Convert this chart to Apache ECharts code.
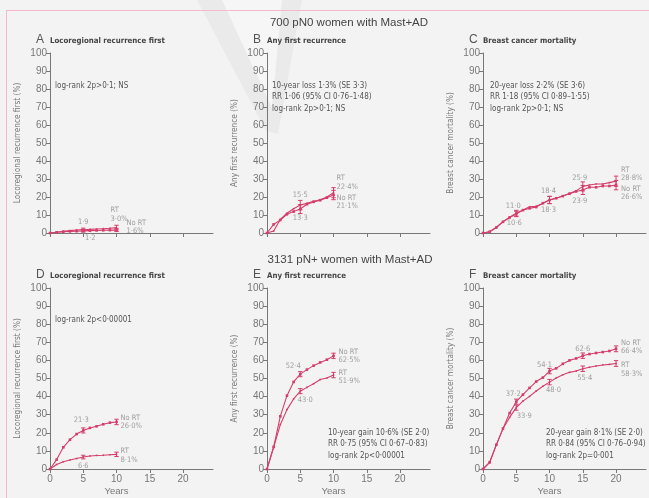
<!DOCTYPE html>
<html><head><meta charset="utf-8">
<script src="https://cdn.jsdelivr.net/npm/echarts@6/dist/echarts.min.js"></script>
<style>html,body{margin:0;padding:0;background:#f3f3f3}#c{width:649px;height:498px}</style>
</head><body><div id="c"></div><script>
// ---------- data ----------
const years10 = [0,1,2,3,4,5,6,7,8,9,10];
const years20 = [0,1,2,3,4,5,6,7,8,9,10,11,12,13,14,15,16,17,18,19,20];
const xTicks = [0,5,10,15,20];

const aRT   = [0,0.4,0.9,1.3,1.7,1.9,2.0,2.2,2.4,2.6,3.0];
const aNoRT = [0,0.4,0.7,0.9,1.0,1.2,1.3,1.4,1.5,1.6,1.6];
const bRT   = [0,1.1,7.5,11.0,13.5,15.5,16.5,17.6,18.5,20.0,22.4];
const bNoRT = [0,4.8,7.2,10.4,11.9,13.3,16.0,17.3,18.2,19.6,21.1];
const cRT   = [0,0.7,3.2,6.3,8.8,11.0,12.8,14.6,14.8,16.4,18.4,19.3,20.6,22.0,23.4,25.9,26.7,27.2,27.2,28.0,28.8];
const cNoRT = [0,0.7,3.0,6.2,8.6,10.6,12.7,13.7,14.4,16.6,18.3,19.3,20.5,21.8,23.1,23.9,25.4,25.4,26.1,26.1,26.6];
const dRT   = [0,2.5,4.0,5.0,5.8,6.6,7.2,7.5,7.6,7.9,8.1];
const dNoRT = [0,5.2,12.0,16.2,19.3,21.3,22.7,23.6,24.7,25.6,26.0];
const eRT   = [0,12.0,24.5,32.8,38.7,43.0,45.1,47.1,49.4,50.3,51.9];
const eNoRT = [0,12.2,29.1,40.5,48.1,52.4,54.9,57.1,58.9,60.4,62.5];
const fRT   = [0,3.7,13.2,22.3,28.5,33.9,37.5,40.1,43.1,45.7,48.0,50.3,52.1,53.4,54.1,55.4,56.2,56.9,57.5,57.8,58.3];
const fNoRT = [0,3.7,13.4,22.3,30.9,37.2,41.1,44.8,48.3,50.5,54.1,55.6,58.1,60.0,61.1,62.6,63.5,64.1,64.6,65.2,66.4];

// error-bar half widths at 5-year marks
const aRTci = [0.8,1.3],  aNoRTci = [0.7,0.8];
const bRTci = [2.6,2.8],  bNoRTci = [2.5,2.6];
const cRTci = [1.6,2.0,2.5,2.8], cNoRTci = [1.5,2.0,2.5,2.6];
const dRTci = [1.0,1.2],  dNoRTci = [1.4,1.5];
const eRTci = [1.4,1.5],  eNoRTci = [1.4,1.5];
const fRTci = [1.4,1.5,1.5,1.6], fNoRTci = [1.4,1.5,1.5,1.6];

const panelTitles = ['Locoregional recurrence first','Any first recurrence','Breast cancer mortality',
                     'Locoregional recurrence first','Any first recurrence','Breast cancer mortality'];
const panelLetters = ['A','B','C','D','E','F'];
const yNames = ['Locoregional recurrence first (%)','Any first recurrence (%)','Breast cancer mortality (%)',
                'Locoregional recurrence first (%)','Any first recurrence (%)','Breast cancer mortality (%)'];
const rowTitles = ['700 pN0 women with Mast+AD','3131 pN+ women with Mast+AD'];
const notes = [
  ['log-rank 2p>0·1; NS'],
  ['10-year loss 1·3% (SE 3·3)','RR 1·06 (95% CI 0·76–1·48)','log-rank 2p>0·1; NS'],
  ['20-year loss 2·2% (SE 3·6)','RR 1·18 (95% CI 0·89–1·55)','log-rank 2p>0·1; NS'],
  ['log-rank 2p<0·00001'],
  ['10-year gain 10·6% (SE 2·0)','RR 0·75 (95% CI 0·67–0·83)','log-rank 2p<0·00001'],
  ['20-year gain 8·1% (SE 2·0)','RR 0·84 (95% CI 0·76–0·94)','log-rank 2p=0·001']
];

// ---------- layout ----------
const COL = '#d43d6b';
const FF = '"Liberation Sans Narrow","DejaVu Sans Condensed","Liberation Sans",sans-serif';
const FT = '"Liberation Sans",sans-serif';
const LEFTS = [50,267,483];
const TOPS = [53,288];
const W = 163, HS = [180,181];
const XMAX = 24.5;

const fmt = v => v.toFixed(1).replace('.', '·');

const grids=[], xAxes=[], yAxes=[], series=[], graphics=[];

function errRender(params, api){
  const x=api.value(0), lo=api.value(1), hi=api.value(2);
  const p1=api.coord([x,lo]), p2=api.coord([x,hi]); const w=2.2;
  const st={stroke:COL,lineWidth:1};
  return {type:'group',children:[
    {type:'line',shape:{x1:p1[0],y1:p1[1],x2:p2[0],y2:p2[1]},style:st},
    {type:'line',shape:{x1:p1[0]-w,y1:p1[1],x2:p1[0]+w,y2:p1[1]},style:st},
    {type:'line',shape:{x1:p2[0]-w,y1:p2[1],x2:p2[0]+w,y2:p2[1]},style:st}
  ]};
}

function addPanel(i, yrs, rt, nort, rtci, nortci, labels){
  const row = Math.floor(i/3), col = i%3;
  grids.push({left:LEFTS[col], top:TOPS[row], width:W, height:HS[row], containLabel:false});
  xAxes.push({type:'value', gridIndex:i, min:0, max:XMAX, interval:5,
    axisLine:{lineStyle:{color:'#777',width:1}},
    axisTick:{show:true, length:4, lineStyle:{color:'#777'}, customValues:xTicks},
    axisLabel:{show:row===1, color:'#777', fontSize:10, fontFamily:FT, margin:5, customValues:xTicks},
    splitLine:{show:false}});
  yAxes.push({type:'value', gridIndex:i, min:0, max:100, interval:10,
    name:yNames[i], nameLocation:'middle', nameGap:28, nameRotate:90,
    nameTextStyle:{color:'#777', fontSize:8.2, fontFamily:FF},
    axisLine:{show:true, lineStyle:{color:'#777',width:1}},
    axisTick:{show:true, length:4, lineStyle:{color:'#777'}},
    axisLabel:{color:'#777', fontSize:10, fontFamily:FT, margin:3},
    splitLine:{show:false}});
  series.push({type:'line', xAxisIndex:i, yAxisIndex:i, data:yrs.map((y,k)=>[y,nort[k]]),
    symbol:'rect', symbolSize:2.6, showSymbol:true, lineStyle:{color:COL,width:1.1}, itemStyle:{color:COL},
    animation:false, silent:true});
  series.push({type:'line', xAxisIndex:i, yAxisIndex:i, data:yrs.map((y,k)=>[y,rt[k]]),
    symbol:'rect', symbolSize:1.6, showSymbol:true, lineStyle:{color:COL,width:1.1}, itemStyle:{color:COL},
    animation:false, silent:true});
  const errData=[];
  rtci.forEach((h,k)=>{const x=5*(k+1); const v=rt[yrs.indexOf(x)]; errData.push([x,v-h,v+h]);});
  nortci.forEach((h,k)=>{const x=5*(k+1); const v=nort[yrs.indexOf(x)]; errData.push([x,v-h,v+h]);});
  series.push({type:'custom', xAxisIndex:i, yAxisIndex:i, renderItem:errRender, data:errData,
    encode:{x:0,y:[1,2]}, animation:false, silent:true, z:3});
  // value labels
  const lab = labels.map(L=>{
    const arr = L.s==='rt'?rt:nort;
    const v = arr[yrs.indexOf(L.x)];
    const txt = L.end ? (L.s==='rt'?'RT':'No RT')+'\n'+fmt(v)+'%' : fmt(v);
    return {value:[L.x,v], label:{formatter:txt, offset:L.o, align:L.end?'left':'center'}};
  });
  series.push({type:'scatter', xAxisIndex:i, yAxisIndex:i, data:lab, symbolSize:1,
    itemStyle:{color:'rgba(0,0,0,0)'}, animation:false, silent:true, z:5,
    label:{show:true, position:'inside', verticalAlign:'middle', color:'#8a8a8a', fontSize:7.5,
      lineHeight:8.5, fontFamily:FF}});
  // titles
  const ty = TOPS[row]-12;
  graphics.push({type:'text', left:LEFTS[col]-14, top:ty-7, style:{text:panelLetters[i], fill:'#555', font:'12px '+FT}});
  graphics.push({type:'text', left:LEFTS[col], top:ty-4, style:{text:panelTitles[i], fill:'#444', font:'bold 7.8px '+FF}});
  // notes
  const nx = [55,272,490][col];
  const ny = row===0 ? 82 : (col===0 ? 316 : 429);
  notes[i].forEach((t,k)=>{
    graphics.push({type:'text', left:(row===1&&col>0)?[0,328,546][col]:nx, top:ny+k*11.3,
      style:{text:t, fill:'#555', font:'8px '+FF}});
  });
  if(row===1){
    const px = LEFTS[col] + 10*W/XMAX;
    graphics.push({type:'text', x:px, y:491, style:{text:'Years', fill:'#777', font:'9.5px '+FT, align:'center', verticalAlign:'middle'}});
  }
}

addPanel(0, years10, aRT, aNoRT, aRTci, aNoRTci, [
  {s:'rt',x:5,o:[0,-8]}, {s:'nort',x:5,o:[7,7]},
  {s:'rt',x:10,o:[-6,-13],end:1}, {s:'nort',x:10,o:[10,-3],end:1}]);
addPanel(1, years10, bRT, bNoRT, bRTci, bNoRTci, [
  {s:'rt',x:5,o:[0,-10]}, {s:'nort',x:5,o:[0,9]},
  {s:'rt',x:10,o:[3,-10],end:1}, {s:'nort',x:10,o:[3,7],end:1}]);
addPanel(2, years20, cRT, cNoRT, cRTci, cNoRTci, [
  {s:'rt',x:5,o:[-3,-7]}, {s:'nort',x:5,o:[-2,9]},
  {s:'rt',x:10,o:[-1,-9]}, {s:'nort',x:10,o:[-1,10]},
  {s:'rt',x:15,o:[-3,-8]}, {s:'nort',x:15,o:[-3,11]},
  {s:'rt',x:20,o:[5,-7],end:1}, {s:'nort',x:20,o:[5,8],end:1}]);
addPanel(3, years10, dRT, dNoRT, dRTci, dNoRTci, [
  {s:'nort',x:5,o:[-2,-10]}, {s:'rt',x:5,o:[0,9]},
  {s:'nort',x:10,o:[4,0],end:1}, {s:'rt',x:10,o:[4,1],end:1}]);
addPanel(4, years10, eRT, eNoRT, eRTci, eNoRTci, [
  {s:'nort',x:5,o:[-7,-8]}, {s:'rt',x:5,o:[5,9]},
  {s:'nort',x:10,o:[5,0],end:1}, {s:'rt',x:10,o:[5,2],end:1}]);
addPanel(5, years20, fRT, fNoRT, fRTci, fNoRTci, [
  {s:'nort',x:5,o:[-3,-8]}, {s:'rt',x:5,o:[8,8]},
  {s:'nort',x:10,o:[-5,-6]}, {s:'rt',x:10,o:[4,8]},
  {s:'nort',x:15,o:[0,-7]}, {s:'rt',x:15,o:[2,9]},
  {s:'nort',x:20,o:[5,-2],end:1}, {s:'rt',x:20,o:[5,6],end:1}]);

// decorations
graphics.unshift(
  {type:'polygon', shape:{points:[[197,0],[302,0],[278,134],[266,131]]}, style:{fill:'#eaeaea'}, z:-10},
  {type:'polygon', shape:{points:[[222,0],[282,0],[272,108]]}, style:{fill:'#f6f6f6'}, z:-9},
  {type:'line', shape:{x1:7,y1:10.5,x2:649,y2:10.5}, style:{stroke:'#f2b9c9',lineWidth:1}},
  {type:'line', shape:{x1:6.5,y1:10,x2:6.5,y2:498}, style:{stroke:'#f2b9c9',lineWidth:1}}
);
graphics.push({type:'text', x:349, y:23, style:{text:rowTitles[0], fill:'#444', font:'11.5px '+FT, align:'center', verticalAlign:'middle'}});
graphics.push({type:'text', x:350, y:260, style:{text:rowTitles[1], fill:'#444', font:'11.5px '+FT, align:'center', verticalAlign:'middle'}});

const chart = echarts.init(document.getElementById('c'), null, {renderer:'canvas'});
chart.setOption({backgroundColor:'#f3f3f3', animation:false, grid:grids, xAxis:xAxes, yAxis:yAxes, series:series, graphic:graphics});
</script></body></html>
